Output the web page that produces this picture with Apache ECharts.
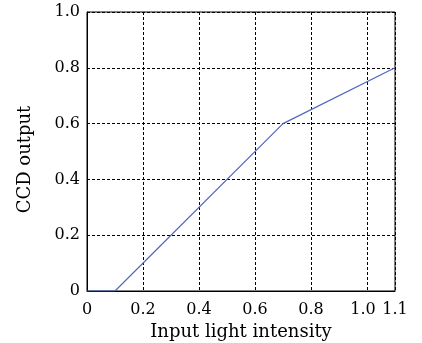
<!DOCTYPE html>
<html>
<head>
<meta charset="utf-8">
<script src="https://cdn.jsdelivr.net/npm/echarts@6/dist/echarts.min.js"></script>
<style>
html,body{margin:0;padding:0;background:#fff;}
#box{width:422px;height:343px;}
</style>
</head>
<body>
<div id="box"></div>
<script>
// input light intensity vs CCD output
var xValues = [0, 0.1, 0.7, 1.1];
var yValues = [0, 0, 0.6, 0.8];
var xLabels = ['0', '0.2', '0.4', '0.6', '0.8', '1.0', '1.1'];
var yLabels = ['0', '0.2', '0.4', '0.6', '0.8', '1.0'];

var points = [];
for (var i = 0; i < xValues.length; i++) {
	points.push([xValues[i], yValues[i]]);
}

function fmt(v) {
	var s = v === 0 ? '0' : v.toFixed(1);
	return s;
}

var font = 'DejaVu Serif';
var mychart = echarts.init(document.getElementById('box'));
var option = {
	animation: false,
	backgroundColor: '#fff',
	grid: {
		left: 87, right: 27, top: 12, bottom: 52,
		containLabel: false, outerBoundsMode: 'none',
		show: true, borderColor: '#000', borderWidth: 1
	},
	xAxis: [{
		type: 'value',
		min: 0,
		max: 1.1,
		interval: 0.1,
		name: 'Input light intensity',
		nameLocation: 'middle',
		nameGap: 29,
		nameTextStyle: {fontFamily: font, fontSize: 18, color: '#000'},
		axisLine: {lineStyle: {color: '#000'}},
		axisTick: {show: false},
		splitLine: {show: false},
		axisLabel: {
			fontFamily: font, fontSize: 16, color: '#000', margin: 11,
			showMaxLabel: true,
			formatter: function (v) {
				var s = fmt(v);
				if (xLabels.indexOf(s) < 0) return '';
				// 1.0 sits a little left so it does not touch 1.1
				if (s === '1.0') return '{l|' + s + '}';
				return s;
			},
			rich: {l: {fontFamily: font, fontSize: 16, color: '#000', padding: [0, 8, 0, 0]}}
		}
	}, {
		// grid lines only
		type: 'value',
		min: 0,
		max: 1.1,
		interval: 0.2,
		position: 'bottom',
		axisLine: {show: false},
		axisTick: {show: false},
		axisLabel: {show: false},
		splitLine: {lineStyle: {color: '#000', type: [3, 2], width: 1}}
	}],
	yAxis: {
		type: 'value',
		min: 0,
		max: 1,
		interval: 0.2,
		name: 'CCD output',
		nameLocation: 'middle',
		nameGap: 53,
		nameTextStyle: {fontFamily: font, fontSize: 18, color: '#000', padding: [0, 16, 0, 0]},
		axisLine: {show: true, lineStyle: {color: '#000'}},
		axisTick: {show: false},
		splitLine: {lineStyle: {color: '#000', type: [3, 2], width: 1}},
		axisLabel: {
			fontFamily: font, fontSize: 16, color: '#000', margin: 7,
			formatter: function (v) {
				var s = fmt(v);
				return yLabels.indexOf(s) >= 0 ? s : '';
			}
		}
	},
	series: [{
		type: 'line',
		data: points,
		symbol: 'none',
		lineStyle: {color: '#4f66c2', width: 1.2}
	}]
};
mychart.setOption(option);
</script>
</body>
</html>
